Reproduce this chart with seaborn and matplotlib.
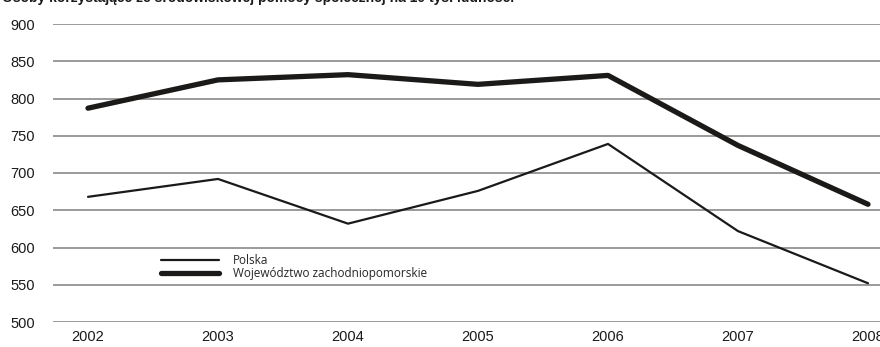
import matplotlib
matplotlib.use("Agg")
import matplotlib.pyplot as plt
import pandas as pd
import seaborn as sns

# dane
years = ["2002", "2003", "2004", "2005", "2006", "2007", "2008"]
polska = [668, 692, 632, 676, 739, 622, 552]
zachodniopomorskie = [787, 825, 832, 819, 831, 737, 658]
series_names = ["Polska", "Województwo zachodniopomorskie"]
title = "Osoby korzystające ze środowiskowej pomocy społecznej na 10 tys. ludności"

df = pd.DataFrame({
    "rok": years * 2,
    "wartosc": polska + zachodniopomorskie,
    "seria": [series_names[0]] * len(years) + [series_names[1]] * len(years),
})

sns.set_theme(style="white")
plt.rcParams["font.family"] = ["Liberation Sans", "DejaVu Sans"]

W, H = 880, 347
fig = plt.figure(figsize=(W / 100, H / 100), dpi=100)
# obszar wykresu: siatka od x=53, 2002 w x=88, krok 130 px
x_left = 53
unit = 130
left_units = (88 - x_left) / unit
right_units = 6.3
ax_w = (left_units + right_units) * unit
ax = fig.add_axes([x_left / W, (H - 322) / H, ax_w / W, (322 - 24) / H])

ax.set_yticks(range(500, 901, 50))
ax.yaxis.grid(True, color="#9a9a9a", linewidth=1.4)
ax.set_axisbelow(True)

sns.lineplot(data=df, x="rok", y="wartosc", hue="seria", size="seria",
             sizes={series_names[0]: 1.6, series_names[1]: 3.8},
             palette={series_names[0]: "#1c1a19", series_names[1]: "#1c1a19"},
             sort=False, ax=ax)

ax.set_xlim(-left_units, right_units)
ax.set_ylim(500, 900)
for s in ax.spines.values():
    s.set_visible(False)
ax.set_xlabel("")
ax.set_ylabel("")
ax.tick_params(axis="y", length=0, pad=13, labelsize=10.5, labelcolor="#1a1a1a")
ax.tick_params(axis="x", length=0, pad=6, labelsize=10.5, labelcolor="#1a1a1a")

leg = ax.legend(loc="upper left", bbox_to_anchor=((155 - x_left) / ax_w, (322 - 248) / 298),
                frameon=False, handlelength=4.9, handletextpad=1.2,
                labelspacing=0.0, borderpad=0, prop={"family": "Open Sans", "size": 8.5})

fig.text(2 / W, 1 - 2 / H, title, fontsize=10, fontweight="bold",
         va="baseline", ha="left", color="#1a1a1a")

fig.savefig("out.png", dpi=100, facecolor="white")
